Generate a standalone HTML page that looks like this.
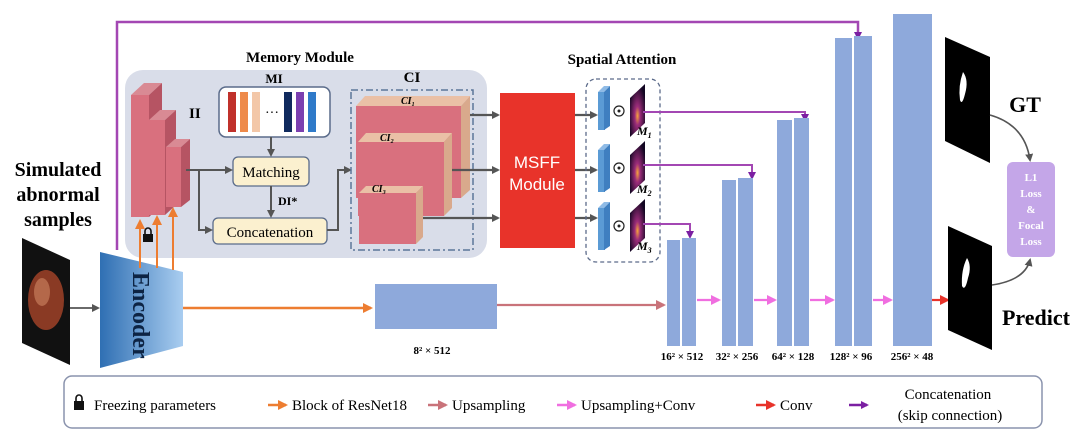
<!DOCTYPE html>
<html><head><meta charset="utf-8"><style>
html,body{margin:0;padding:0;background:#fff;}
svg{display:block;}
.s{font-family:"Liberation Serif",serif;}
.b{font-weight:bold;}
</style></head><body>
<svg width="1080" height="443" viewBox="0 0 1080 443" xmlns="http://www.w3.org/2000/svg" class="s">
<defs>
<marker id="ag" markerWidth="8" markerHeight="8" refX="6" refY="4" orient="auto" markerUnits="userSpaceOnUse"><path d="M0,0 L8,4 L0,8 z" fill="#555"/></marker>
<marker id="ao" markerWidth="10" markerHeight="10" refX="8" refY="5" orient="auto" markerUnits="userSpaceOnUse"><path d="M0,0 L10,5 L0,10 z" fill="#ed7d31"/></marker>
<marker id="ar" markerWidth="10" markerHeight="10" refX="8" refY="5" orient="auto" markerUnits="userSpaceOnUse"><path d="M0,0 L10,5 L0,10 z" fill="#c9737a"/></marker>
<marker id="ap" markerWidth="10" markerHeight="10" refX="8" refY="5" orient="auto" markerUnits="userSpaceOnUse"><path d="M0,0 L10,5 L0,10 z" fill="#f06ee0"/></marker>
<marker id="ac" markerWidth="10" markerHeight="10" refX="8" refY="5" orient="auto" markerUnits="userSpaceOnUse"><path d="M0,0 L10,5 L0,10 z" fill="#e8332a"/></marker>
<marker id="au" markerWidth="8" markerHeight="8" refX="6" refY="4" orient="auto" markerUnits="userSpaceOnUse"><path d="M0,0 L8,4 L0,8 z" fill="#7b1fa2"/></marker>
<linearGradient id="enc" x1="0" x2="1"><stop offset="0" stop-color="#2f6fb3"/><stop offset="1" stop-color="#a9cdf0"/></linearGradient>
<radialGradient id="hm" cx="0.5" cy="0.6" r="0.6"><stop offset="0" stop-color="#f7a33a"/><stop offset="0.3" stop-color="#9b2c7a"/><stop offset="1" stop-color="#120622"/></radialGradient>
</defs>

<!-- top purple skip -->
<path d="M117,250 L117,22 L858,22 L858,38" fill="none" stroke="#a347b3" stroke-width="2.5" marker-end="url(#au)"/>

<!-- memory module -->
<rect x="125" y="70" width="362" height="188" rx="18" fill="#d9dde9"/>
<text x="300" y="62" text-anchor="middle" class="b" font-size="15">Memory Module</text>
<!-- II blocks -->
<g>
<polygon points="131,95 144,83 162,83 149,95" fill="#d98a94"/>
<polygon points="149,95 162,83 162,205 149,217" fill="#b65463"/>
<rect x="131" y="95" width="18" height="122" fill="#d9707e"/>
<polygon points="149,120 160,110 176,110 165,120" fill="#d98a94"/>
<polygon points="165,120 176,110 176,205 165,215" fill="#b65463"/>
<rect x="149" y="120" width="16" height="95" fill="#d9707e"/>
<polygon points="166,147 175,139 190,139 181,147" fill="#d98a94"/>
<polygon points="181,147 190,139 190,200 181,207" fill="#b65463"/>
<rect x="166" y="147" width="15" height="60" fill="#d9707e"/>
</g>
<text x="189" y="118" class="b" font-size="15">II</text>
<!-- MI -->
<text x="274" y="83" text-anchor="middle" class="b" font-size="13">MI</text>
<rect x="219" y="87" width="111" height="50" rx="7" fill="#fff" stroke="#5a6b8a" stroke-width="1.5"/>
<rect x="228" y="92" width="8" height="40" fill="#c0312b"/>
<rect x="240" y="92" width="8" height="40" fill="#ee8a4a"/>
<rect x="252" y="92" width="8" height="40" fill="#f3c7a8"/>
<text x="272" y="117" text-anchor="middle" font-size="14">···</text>
<rect x="284" y="92" width="8" height="40" fill="#102a5e"/>
<rect x="296" y="92" width="8" height="40" fill="#7b3fb0"/>
<rect x="308" y="92" width="8" height="40" fill="#2f7ac9"/>
<line x1="271" y1="137" x2="271" y2="155" stroke="#555" stroke-width="2" marker-end="url(#ag)"/>
<rect x="233" y="157" width="76" height="29" rx="5" fill="#fbf0cf" stroke="#5a6b8a" stroke-width="1.3"/>
<text x="271" y="177" text-anchor="middle" font-size="15">Matching</text>
<line x1="271" y1="186" x2="271" y2="216" stroke="#555" stroke-width="2" marker-end="url(#ag)"/>
<text x="278" y="205" class="b" font-size="12">DI*</text>
<rect x="213" y="218" width="114" height="26" rx="5" fill="#fbf0cf" stroke="#5a6b8a" stroke-width="1.3"/>
<text x="270" y="237" text-anchor="middle" font-size="15">Concatenation</text>
<path d="M186,170 L231,170" stroke="#555" stroke-width="2" fill="none" marker-end="url(#ag)"/>
<path d="M199,170 L199,230 L211,230" stroke="#555" stroke-width="2" fill="none" marker-end="url(#ag)"/>
<path d="M327,230 L338,230 L338,170 L350,170" stroke="#555" stroke-width="2" fill="none" marker-end="url(#ag)"/>
<!-- CI -->
<text x="412" y="82" text-anchor="middle" class="b" font-size="15">CI</text>
<rect x="351" y="90" width="122" height="160" fill="none" stroke="#5c7699" stroke-width="1.5" stroke-dasharray="7,3,2,3"/>
<polygon points="356,106 365,96 470,96 461,106" fill="#eac0a6"/>
<polygon points="461,106 470,96 470,190 461,198" fill="#d9a98c"/>
<rect x="356" y="106" width="105" height="92" fill="#d9707e"/>
<text x="408" y="104" text-anchor="middle" font-size="10" font-style="italic" class="b">CI₁</text>
<polygon points="358,142 366,133 452,133 444,142" fill="#eac0a6"/>
<polygon points="444,142 452,133 452,208 444,216" fill="#d9a98c"/>
<rect x="358" y="142" width="86" height="74" fill="#d9707e"/>
<text x="380" y="141" font-size="10" font-style="italic" class="b">CI₂</text>
<polygon points="359,193 366,186 423,186 416,193" fill="#eac0a6"/>
<polygon points="416,193 423,186 423,237 416,244" fill="#d9a98c"/>
<rect x="359" y="193" width="57" height="51" fill="#d9707e"/>
<text x="372" y="192" font-size="10" font-style="italic" class="b">CI₃</text>
<line x1="470" y1="115" x2="498" y2="115" stroke="#555" stroke-width="2.2" marker-end="url(#ag)"/>
<line x1="452" y1="170" x2="498" y2="170" stroke="#555" stroke-width="2.2" marker-end="url(#ag)"/>
<line x1="423" y1="218" x2="498" y2="218" stroke="#555" stroke-width="2.2" marker-end="url(#ag)"/>

<!-- MSFF -->
<rect x="500" y="93" width="75" height="155" fill="#e8332a"/>
<text x="537" y="168" text-anchor="middle" fill="#fff" font-family="Liberation Sans,sans-serif" font-size="17">MSFF</text>
<text x="537" y="190" text-anchor="middle" fill="#fff" font-family="Liberation Sans,sans-serif" font-size="17">Module</text>
<line x1="575" y1="115" x2="596" y2="115" stroke="#555" stroke-width="2.2" marker-end="url(#ag)"/>
<line x1="575" y1="170" x2="596" y2="170" stroke="#555" stroke-width="2.2" marker-end="url(#ag)"/>
<line x1="575" y1="218" x2="596" y2="218" stroke="#555" stroke-width="2.2" marker-end="url(#ag)"/>

<!-- Spatial attention -->
<text x="622" y="64" text-anchor="middle" class="b" font-size="15">Spatial Attention</text>
<rect x="586" y="79" width="74" height="183" rx="10" fill="none" stroke="#5c6b8a" stroke-width="1.3" stroke-dasharray="4,3"/>
<g fill="#5b9bd5">
<polygon points="598,92 604,86 610,86 604,92" fill="#8fbbe6"/>
<rect x="598" y="92" width="7" height="38"/><polygon points="604,92 610,86 610,126 604,130" fill="#3f7fc0"/>
<polygon points="598,150 604,144 610,144 604,150" fill="#8fbbe6"/>
<rect x="598" y="150" width="7" height="42"/><polygon points="604,150 610,144 610,188 604,192" fill="#3f7fc0"/>
<polygon points="598,208 604,202 610,202 604,208" fill="#8fbbe6"/>
<rect x="598" y="208" width="7" height="42"/><polygon points="604,208 610,202 610,246 604,250" fill="#3f7fc0"/>
</g>
<g fill="none" stroke="#222" stroke-width="1.2">
<circle cx="619" cy="111" r="5"/><circle cx="619" cy="168" r="5"/><circle cx="619" cy="226" r="5"/>
</g>
<g fill="#222"><circle cx="619" cy="111" r="1.5"/><circle cx="619" cy="168" r="1.5"/><circle cx="619" cy="226" r="1.5"/></g>
<polygon points="630,98 645,84 645,123 630,137" fill="url(#hm)"/>
<polygon points="630,155 645,141 645,180 630,194" fill="url(#hm)"/>
<polygon points="630,213 645,199 645,238 630,252" fill="url(#hm)"/>
<text x="637" y="135" class="b" font-style="italic" font-size="12">M<tspan font-size="8" dy="3">1</tspan></text>
<text x="637" y="193" class="b" font-style="italic" font-size="12">M<tspan font-size="8" dy="3">2</tspan></text>
<text x="637" y="250" class="b" font-style="italic" font-size="12">M<tspan font-size="8" dy="3">3</tspan></text>
<g fill="none" stroke="#a347b3" stroke-width="2">
<path d="M643,112 L805,112 L805,120" marker-end="url(#au)"/>
<path d="M643,165 L752,165 L752,178" marker-end="url(#au)"/>
<path d="M643,224 L690,224 L690,237" marker-end="url(#au)"/>
</g>

<!-- decoder bars -->
<g fill="#8ea9db">
<rect x="667" y="240" width="13" height="106"/><rect x="682" y="238" width="14" height="108"/>
<rect x="722" y="180" width="14" height="166"/><rect x="738" y="178" width="15" height="168"/>
<rect x="777" y="120" width="15" height="226"/><rect x="794" y="118" width="15" height="228"/>
<rect x="835" y="38" width="17" height="308"/><rect x="854" y="36" width="18" height="310"/>
<rect x="893" y="14" width="39" height="332"/>
</g>
<g stroke-width="2.2">
<line x1="697" y1="300" x2="719" y2="300" stroke="#f06ee0" marker-end="url(#ap)"/>
<line x1="754" y1="300" x2="775" y2="300" stroke="#f06ee0" marker-end="url(#ap)"/>
<line x1="810" y1="300" x2="833" y2="300" stroke="#f06ee0" marker-end="url(#ap)"/>
<line x1="873" y1="300" x2="891" y2="300" stroke="#f06ee0" marker-end="url(#ap)"/>
<line x1="932" y1="300" x2="948" y2="300" stroke="#e8332a" marker-end="url(#ac)"/>
</g>
<g class="b" font-size="11" text-anchor="middle">
<text x="682" y="360">16² × 512</text>
<text x="737" y="360">32² × 256</text>
<text x="793" y="360">64² × 128</text>
<text x="851" y="360">128² × 96</text>
<text x="912" y="360">256² × 48</text>
<text x="432" y="354">8² × 512</text>
</g>

<!-- left side -->
<g class="b" font-size="20" text-anchor="middle">
<text x="58" y="176">Simulated</text>
<text x="58" y="201">abnormal</text>
<text x="58" y="226">samples</text>
</g>
<polygon points="22,238 70,260 70,365 22,343" fill="#111"/>
<ellipse cx="46" cy="300" rx="18" ry="30" fill="#8a3a24"/>
<ellipse cx="42" cy="292" rx="8" ry="14" fill="#b4684a"/>
<line x1="70" y1="308" x2="98" y2="308" stroke="#555" stroke-width="1.8" marker-end="url(#ag)"/>
<polygon points="100,252 183,272 183,346 100,368" fill="url(#enc)"/>
<text transform="translate(133,272) rotate(90)" class="b" font-size="24" fill="#0d2444">Encoder</text>
<g stroke="#ed7d31" stroke-width="2">
<line x1="140" y1="268" x2="140" y2="221" marker-end="url(#ao)"/>
<line x1="157" y1="268" x2="157" y2="217" marker-end="url(#ao)"/>
<line x1="173" y1="270" x2="173" y2="209" marker-end="url(#ao)"/>
</g>
<rect x="143" y="234" width="10" height="8" fill="#111"/>
<path d="M145,234 v-3 a3,3 0 0 1 6,0 v3" fill="none" stroke="#111" stroke-width="1.6"/>
<line x1="183" y1="308" x2="371" y2="308" stroke="#ed7d31" stroke-width="2.5" marker-end="url(#ao)"/>
<rect x="375" y="284" width="122" height="45" fill="#8ea9db"/>
<line x1="497" y1="305" x2="664" y2="305" stroke="#c9737a" stroke-width="2.2" marker-end="url(#ar)"/>

<!-- right side -->
<polygon points="945,37 990,57 990,163 945,141" fill="#000"/>
<path d="M963,72 q6,8 2,22 q-3,12 -5,6 q-2,-14 3,-28z" fill="#fff"/>
<polygon points="948,226 992,246 992,350 948,330" fill="#000"/>
<path d="M967,258 q5,8 1,20 q-3,14 -6,8 q-1,-16 5,-28z" fill="#fff"/>
<text x="1025" y="112" text-anchor="middle" class="b" font-size="22">GT</text>
<text x="1036" y="325" text-anchor="middle" class="b" font-size="22">Predict</text>
<rect x="1007" y="162" width="48" height="95" rx="6" fill="#c4a6e8"/>
<g fill="#fff" class="b" font-size="11" text-anchor="middle">
<text x="1031" y="181">L1</text><text x="1031" y="197">Loss</text><text x="1031" y="213">&amp;</text><text x="1031" y="229">Focal</text><text x="1031" y="245">Loss</text>
</g>
<path d="M990,115 Q1025,125 1030,160" fill="none" stroke="#555" stroke-width="1.6" marker-end="url(#ag)"/>
<path d="M992,285 Q1025,280 1030,260" fill="none" stroke="#555" stroke-width="1.6" marker-end="url(#ag)"/>

<!-- legend -->
<rect x="64" y="376" width="978" height="52" rx="8" fill="#fff" stroke="#8a93ad" stroke-width="1.5"/>
<g font-size="15">
<rect x="74" y="401" width="10" height="9" fill="#111"/>
<path d="M76,401 v-3 a3,3 0 0 1 6,0 v3" fill="none" stroke="#111" stroke-width="1.6"/>
<text x="94" y="410">Freezing parameters</text>
<line x1="268" y1="405" x2="286" y2="405" stroke="#ed7d31" stroke-width="2.5" marker-end="url(#ao)"/>
<text x="292" y="410">Block of ResNet18</text>
<line x1="428" y1="405" x2="446" y2="405" stroke="#c9737a" stroke-width="2.5" marker-end="url(#ar)"/>
<text x="452" y="410">Upsampling</text>
<line x1="557" y1="405" x2="575" y2="405" stroke="#f06ee0" stroke-width="2.5" marker-end="url(#ap)"/>
<text x="581" y="410">Upsampling+Conv</text>
<line x1="756" y1="405" x2="774" y2="405" stroke="#e8332a" stroke-width="2.5" marker-end="url(#ac)"/>
<text x="780" y="410">Conv</text>
<line x1="849" y1="405" x2="867" y2="405" stroke="#7b1fa2" stroke-width="2.5" marker-end="url(#au)"/>
<text x="948" y="399" text-anchor="middle">Concatenation</text>
<text x="950" y="420" text-anchor="middle">(skip connection)</text>
</g>
</svg>
</body></html>
